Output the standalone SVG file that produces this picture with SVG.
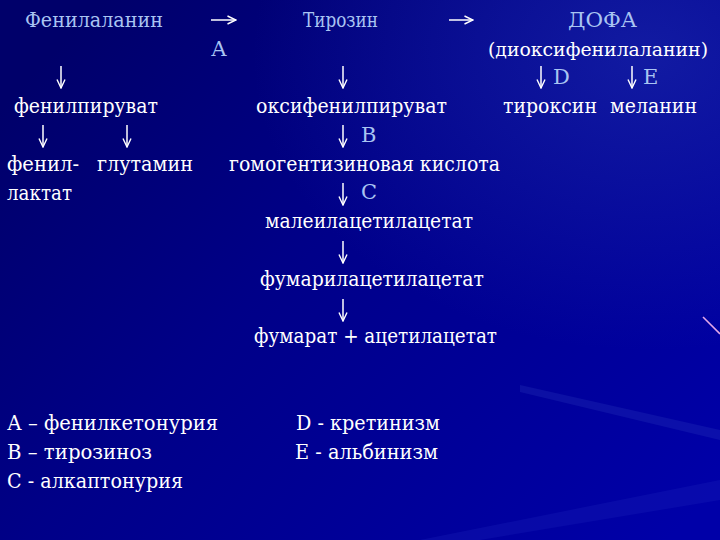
<svg xmlns="http://www.w3.org/2000/svg" width="720" height="540" viewBox="0 0 720 540">
<defs>
<linearGradient id="bg" x1="0" y1="0.2" x2="1" y2="0.9">
<stop offset="0" stop-color="#00006a"/>
<stop offset="0.4" stop-color="#000088"/>
<stop offset="1" stop-color="#0000a8"/>
</linearGradient>
<radialGradient id="glow" cx="0.9" cy="0.1" r="0.55">
<stop offset="0" stop-color="#2030b0" stop-opacity="0.55"/>
<stop offset="1" stop-color="#2030b0" stop-opacity="0"/>
</radialGradient>
<marker id="ah" viewBox="0 0 10 10" refX="9.5" refY="5" markerWidth="10" markerHeight="10" markerUnits="userSpaceOnUse" orient="auto">
<path d="M1,1 L9.5,5 L1,9" fill="none" stroke="#ffffff" stroke-width="1.4"/>
</marker>
<style>
text{font-family:"DejaVu Serif","Liberation Serif",serif;font-size:21px;fill:#ffffff}
.lb{fill:#a9c4f2}
.arr{stroke:#ffffff;stroke-width:1.5;fill:none;marker-end:url(#ah)}
</style>
</defs>
<rect width="720" height="540" fill="url(#bg)"/>
<rect width="720" height="540" fill="url(#glow)"/>
<path d="M520,385 L720,430 L720,440 L520,392 Z" fill="#3040c0" opacity="0.25"/>
<path d="M420,540 L720,480 L720,500 L480,540 Z" fill="#1a20b8" opacity="0.3"/>
<line x1="703" y1="317" x2="720" y2="334" stroke="#e4a8e8" stroke-width="1.6"/>

<g id="phenylalanine"><text class="lb" x="25" y="27" textLength="138" lengthAdjust="spacingAndGlyphs">Фенилаланин</text></g>
<g id="tyrosine"><text class="lb" x="303" y="27" textLength="75" lengthAdjust="spacingAndGlyphs">Тирозин</text></g>
<g id="dopa"><text class="lb" x="568" y="27" textLength="69" lengthAdjust="spacingAndGlyphs">ДОФА</text><text x="488" y="56" style="font-size:19px" textLength="220" lengthAdjust="spacingAndGlyphs">(диоксифенилаланин)</text></g>
<g id="phenylpyruvate"><text x="14" y="113" textLength="144" lengthAdjust="spacingAndGlyphs">фенилпируват</text></g>
<g id="oxyphenylpyruvate"><text x="256" y="113" textLength="191" lengthAdjust="spacingAndGlyphs">оксифенилпируват</text></g>
<g id="thyroxine"><text x="503" y="113" textLength="94" lengthAdjust="spacingAndGlyphs">тироксин</text></g>
<g id="melanin"><text x="610" y="113" textLength="87" lengthAdjust="spacingAndGlyphs">меланин</text></g>
<g id="phenyllactate"><text x="7" y="171" textLength="72" lengthAdjust="spacingAndGlyphs">фенил-</text><text x="7" y="200" textLength="65" lengthAdjust="spacingAndGlyphs">лактат</text></g>
<g id="glutamine"><text x="97" y="171" textLength="96" lengthAdjust="spacingAndGlyphs">глутамин</text></g>
<g id="homogentisic"><text x="229" y="171" textLength="271" lengthAdjust="spacingAndGlyphs">гомогентизиновая кислота</text></g>
<g id="maleylacetoacetate"><text x="265" y="228" textLength="208" lengthAdjust="spacingAndGlyphs">малеилацетилацетат</text></g>
<g id="fumarylacetoacetate"><text x="260" y="286" textLength="224" lengthAdjust="spacingAndGlyphs">фумарилацетилацетат</text></g>
<g id="fumarate"><text x="254" y="343" textLength="243" lengthAdjust="spacingAndGlyphs">фумарат + ацетилацетат</text></g>

<g id="connectors">
<line class="arr" x1="211" y1="20" x2="236" y2="20"/>
<line class="arr" x1="449" y1="20" x2="473" y2="20"/>
<text class="lb" x="211" y="56">А</text>
<line class="arr" x1="61" y1="66" x2="61" y2="88"/>
<line class="arr" x1="343" y1="66" x2="343" y2="88"/>
<line class="arr" x1="541" y1="66" x2="541" y2="88"/><text class="lb" x="553" y="84">D</text>
<line class="arr" x1="632" y1="66" x2="632" y2="88"/><text class="lb" x="643" y="84">E</text>
<line class="arr" x1="43" y1="125" x2="43" y2="147"/>
<line class="arr" x1="127" y1="125" x2="127" y2="147"/>
<line class="arr" x1="343" y1="125" x2="343" y2="147"/><text class="lb" x="361" y="142">В</text>
<line class="arr" x1="343" y1="183" x2="343" y2="205"/><text class="lb" x="361" y="199">С</text>
<line class="arr" x1="343" y1="241" x2="343" y2="263"/>
<line class="arr" x1="343" y1="299" x2="343" y2="321"/>
</g>

<g id="legend">
<text x="7" y="430" textLength="211" lengthAdjust="spacingAndGlyphs">А – фенилкетонурия</text>
<text x="7" y="459" textLength="145" lengthAdjust="spacingAndGlyphs">В – тирозиноз</text>
<text x="7" y="488" textLength="176" lengthAdjust="spacingAndGlyphs">С - алкаптонурия</text>
<text x="296" y="430" textLength="144" lengthAdjust="spacingAndGlyphs">D - кретинизм</text>
<text x="295" y="459" textLength="143" lengthAdjust="spacingAndGlyphs">Е - альбинизм</text>
</g>
</svg>
